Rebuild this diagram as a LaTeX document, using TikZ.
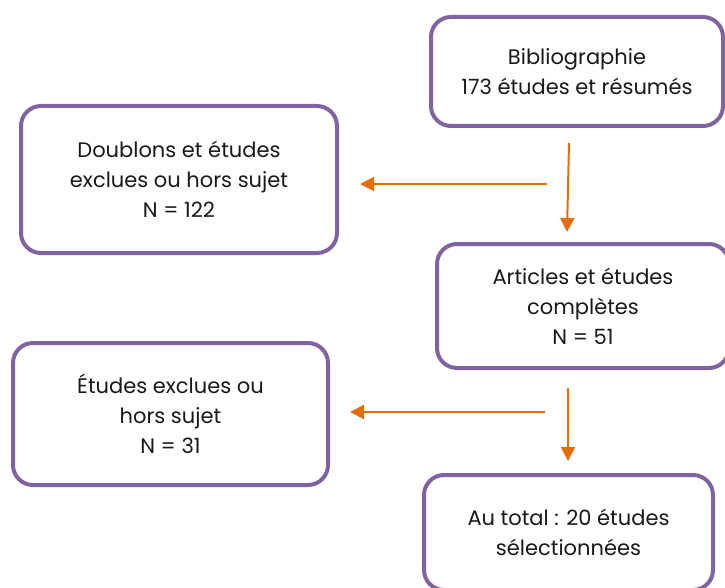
\documentclass[tikz,border=0pt]{standalone}
\usepackage{fontspec}
\setmainfont{Poppins}
\usetikzlibrary{arrows.meta}
\definecolor{boxpurple}{HTML}{8064A2}
\definecolor{arrorange}{HTML}{E46C0A}
\begin{document}
\begin{tikzpicture}[x=1pt,y=-1pt,
  box/.style={draw=boxpurple,line width=4pt,rounded corners=20pt,fill=white,
    align=center,inner sep=0pt,font=\fontsize{21}{30}\selectfont,text=black!90},
  arr/.style={draw=arrorange,line width=2pt,-{Triangle[length=14pt,width=14pt]}}]
\useasboundingbox (0,0) rectangle (725,588);
\begin{scope}
\clip (0,0) rectangle (725,588);
\node[box,minimum width=292pt,minimum height=109pt] (bib) at (577,71.5) {Bibliographie\\173 études et résumés};
\node[box,minimum width=316pt,minimum height=147pt] (dbl) at (179,179.5) {Doublons et études\\exclues ou hors sujet\\N = 122};
\node[box,minimum width=292pt,minimum height=124pt] (art) at (583,306) {Articles et études\\complètes\\N = 51};
\node[box,minimum width=315pt,minimum height=142pt] (exc) at (170.5,414) {Études exclues ou\\hors sujet\\N = 31};
\node[box,minimum width=289pt,minimum height=115pt] (tot) at (568.5,532.5) {Au total : 20 études\\sélectionnées};
\end{scope}
\coordinate (h1s) at (547,184);
\coordinate (h1e) at (360,184);
\coordinate (v1s) at (569,143);
\coordinate (v1e) at (567,232);
\coordinate (h2s) at (545,412);
\coordinate (h2e) at (350,412);
\coordinate (v2s) at (568,388);
\coordinate (v2e) at (568,461);
\draw[arr] (h1s) -- (h1e);
\draw[arr] (v1s) -- (v1e);
\draw[arr] (h2s) -- (h2e);
\draw[arr] (v2s) -- (v2e);
\end{tikzpicture}
\end{document}
